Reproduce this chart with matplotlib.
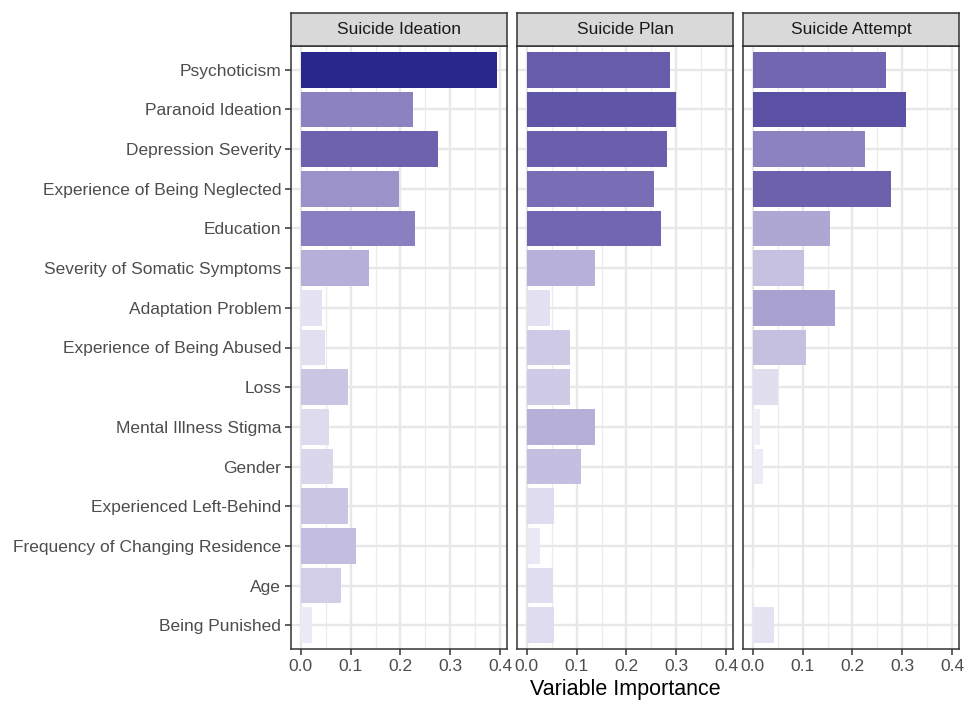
import numpy as np
import matplotlib
matplotlib.use("Agg")
import matplotlib.pyplot as plt
from matplotlib.colors import LinearSegmentedColormap, Normalize
from matplotlib.ticker import FixedLocator, FormatStrFormatter

plt.rcParams['font.family'] = ['Liberation Sans', 'DejaVu Sans']

variables = ["Psychoticism", "Paranoid Ideation", "Depression Severity",
             "Experience of Being Neglected", "Education",
             "Severity of Somatic Symptoms", "Adaptation Problem",
             "Experience of Being Abused", "Loss", "Mental Illness Stigma",
             "Gender", "Experienced Left-Behind",
             "Frequency of Changing Residence", "Age", "Being Punished"]

outcomes = ["Suicide Ideation", "Suicide Plan", "Suicide Attempt"]

ideation = [0.394, 0.226, 0.275, 0.198, 0.229, 0.137, 0.043, 0.048,
            0.094, 0.056, 0.065, 0.094, 0.110, 0.080, 0.023]
plan = [0.287, 0.299, 0.281, 0.256, 0.269, 0.136, 0.047, 0.087,
        0.086, 0.137, 0.109, 0.055, 0.027, 0.053, 0.054]
attempt = [0.268, 0.308, 0.226, 0.278, 0.154, 0.102, 0.165, 0.106,
           0.051, 0.014, 0.021, 0.001, 0.0, 0.002, 0.043]

importance = [ideation, plan, attempt]

# fill scale: light lavender -> deep blue
cmap = LinearSegmentedColormap.from_list("imp", [
    (0.00, "#F4F3F9"), (0.13, "#E1DEF0"), (0.25, "#C8C3E2"),
    (0.35, "#B6AFD8"), (0.51, "#9990C8"), (0.58, "#8A7FC0"),
    (0.70, "#6E62AF"), (0.78, "#5B52A6"), (1.00, "#28288C")])
vmax = max(max(v) for v in importance)
norm = Normalize(0, vmax)

W, H = 964, 701
fig = plt.figure(figsize=(W / 100, H / 100), dpi=100)

lefts = [291, 517, 743]
pw = 216
ptop, pbot = 46, 649
strip_h = 33
edge = "#333333"
xlo, xhi = -0.05 * vmax, vmax * 1.05
ypos = np.arange(len(variables))

for k, (name, vals) in enumerate(zip(outcomes, importance)):
    ax = fig.add_axes([lefts[k] / W, 1 - pbot / H, pw / W, (pbot - ptop) / H])
    ax.set_axisbelow(True)
    ax.barh(ypos, vals, height=0.9, color=cmap(norm(np.array(vals))), linewidth=0)
    ax.set_xlim(xlo, xhi)
    ax.set_ylim(len(variables) - 0.4, -0.6)
    ax.xaxis.set_major_locator(FixedLocator([0, 0.1, 0.2, 0.3, 0.4]))
    ax.xaxis.set_minor_locator(FixedLocator([0.05, 0.15, 0.25, 0.35]))
    ax.xaxis.set_major_formatter(FormatStrFormatter('%.1f'))
    ax.grid(which='major', color='#E8E8E8', linewidth=1.7)
    ax.grid(which='minor', axis='x', color='#EBEBEB', linewidth=0.9)
    ax.tick_params(axis='x', which='minor', length=0)
    ax.tick_params(axis='both', which='major', length=4, width=1.1, color=edge,
                   labelsize=12.5, labelcolor='#4D4D4D', pad=3)
    ax.set_yticks(ypos)
    if k == 0:
        ax.set_yticklabels(variables)
    else:
        ax.set_yticklabels([])
        ax.tick_params(axis='y', length=0)
    for s in ax.spines.values():
        s.set_color(edge)
        s.set_linewidth(1.1)

    st = fig.add_axes([lefts[k] / W, 1 - ptop / H, pw / W, strip_h / H])
    st.set_facecolor("#D9D9D9")
    st.set_xticks([])
    st.set_yticks([])
    for s in st.spines.values():
        s.set_color(edge)
        s.set_linewidth(1.1)
    st.text(0.5, 0.5, name, ha='center', va='center', fontsize=12.5,
            color='#1A1A1A', transform=st.transAxes)

fig.text((lefts[0] + lefts[2] + pw) / 2 / W, 1 - 690 / H, "Variable Importance",
         ha='center', va='center', fontsize=15.5, color='black')

fig.savefig("out.png", dpi=100, facecolor='white')
